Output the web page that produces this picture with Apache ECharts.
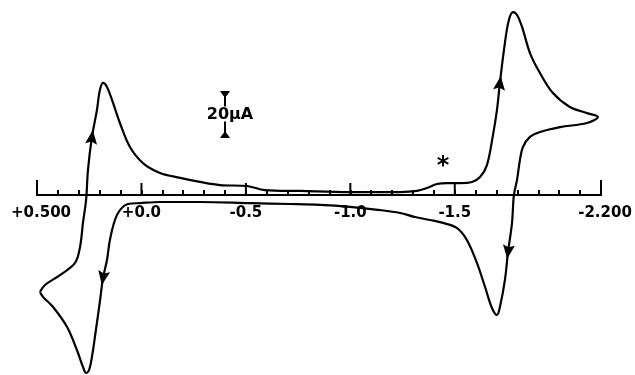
<!DOCTYPE html>
<html>
<head>
<meta charset="utf-8">
<script src="https://cdn.jsdelivr.net/npm/echarts@6/dist/echarts.min.js"></script>
<style>
html,body{margin:0;padding:0;background:#fff;}
#chart{width:635px;height:375px;}
</style>
</head>
<body>
<div id="chart"></div>
<script>
// Potential (V) and current (µA) read along the closed CV loop
const potential = [0.486,0.462,0.390,0.318,0.294,0.280,0.265,0.256,0.237,0.213,0.200,0.184,0.165,0.136,0.103,0.055,-0.007,-0.089,-0.185,-0.280,-0.376,-0.505,-0.591,-0.759,-0.998,-1.238,-1.319,-1.367,-1.415,-1.463,-1.525,-1.582,-1.621,-1.654,-1.683,-1.702,-1.716,-1.740,-1.759,-1.779,-1.798,-1.822,-1.860,-1.908,-1.970,-2.051,-2.133,-2.185,-2.133,-2.004,-1.908,-1.860,-1.826,-1.812,-1.798,-1.783,-1.774,-1.755,-1.740,-1.716,-1.702,-1.678,-1.645,-1.606,-1.558,-1.511,-1.444,-1.381,-1.309,-1.238,-1.142,-0.998,-0.855,-0.711,-0.520,-0.280,-0.089,0.007,0.064,0.103,0.127,0.151,0.165,0.184,0.198,0.218,0.237,0.251,0.265,0.280,0.309,0.356,0.423,0.471,0.486];
const current = [-43.1,-40.0,-35.6,-30.2,-23.1,-12.4,-2.2,11.1,25.8,37.8,46.2,49.8,48.0,40.9,32.0,21.3,14.2,9.8,7.6,5.8,4.4,4.0,2.2,1.8,1.3,1.3,1.8,3.1,4.9,5.3,5.3,5.8,8.0,13.3,26.7,37.8,49.8,67.6,77.8,81.3,80.0,74.7,63.1,54.2,45.3,39.1,36.4,34.7,32.0,30.2,28.0,25.8,21.3,15.6,6.7,0,-12.4,-25.3,-37.8,-49.8,-53.3,-50.2,-40.9,-30.2,-20.0,-14.7,-12.4,-11.1,-9.8,-8.0,-6.7,-5.3,-4.4,-4.0,-3.6,-3.1,-3.1,-3.6,-4.0,-6.7,-11.1,-20.0,-28.9,-36.9,-46.7,-60.0,-72.0,-77.8,-79.1,-76.4,-68.9,-58.7,-49.8,-45.3,-43.1];

// Scan-direction arrows: potential, current, direction (up / down)
const arrowPotential = [0.237, -1.716, -1.755, 0.184];
const arrowCurrent = [25.8, 49.8, -25.3, -36.9];
const arrowDir = ['up', 'up', 'down', 'down'];

// Axis tick labels
const labelValues = [0.5, 0.0, -0.5, -1.0, -1.5, -2.2];
const labelTexts = ['+0.500', '+0.0', '-0.5', '-1.0', '-1.5', '-2.200'];

// Scale bar (20 µA) and peak marker
const scaleBarPotential = -0.40;
const scaleBarFrom = 25.8;
const scaleBarTo = 45.8;
const scaleBarText = '20µA';
const starPotential = -1.444;
const starCurrent = 14.2;

const chart = echarts.init(document.getElementById('chart'));
const FONT = 'DejaVu Sans';

const loopData = potential.map((v, i) => [v, current[i]]);
const arrowData = arrowPotential.map((v, i) => ({
  value: [v, arrowCurrent[i]],
  symbolRotate: arrowDir[i] === 'up' ? -7 : (i === 2 ? 173 : 170)
}));

const option = {
  animation: false,
  backgroundColor: '#fff',
  grid: { left: 37, right: 34, top: 1.5, bottom: 0, containLabel: false, outerBoundsMode: 'none' },
  xAxis: {
    type: 'value',
    inverse: true,
    min: -2.2,
    max: 0.5,
    interval: 0.1,
    axisLine: { onZero: true, lineStyle: { color: '#000', width: 2 } },
    axisTick: { show: true, inside: true, length: 5, lineStyle: { color: '#000', width: 2 } },
    axisLabel: { show: false },
    splitLine: { show: false }
  },
  yAxis: {
    type: 'value',
    min: -80,
    max: 86,
    show: false,
    splitLine: { show: false }
  },
  series: [
    {
      type: 'line',
      data: loopData,
      symbol: 'none',
      smooth: 0.35,
      clip: false,
      lineStyle: { color: '#000', width: 2.2 }
    },
    {
      type: 'scatter',
      data: arrowData,
      symbol: 'path://M0,0 L6,12 L0,10 L-6,12 Z',
      symbolSize: [12, 14],
      itemStyle: { color: '#000', opacity: 1 },
      z: 5
    },
    {
      // taller ticks and labels at labelled potentials
      type: 'custom',
      data: labelValues.map((v, i) => [v, 0, i]),
      renderItem: function (params, api) {
        const p = api.coord([api.value(0), 0]);
        const v = api.value(0);
        const idx = api.value(2);
        const len = (Math.abs(v - 0.5) < 1e-6 || Math.abs(v + 2.2) < 1e-6) ? 15 : 12;
        return {
          type: 'group',
          children: [
            { type: 'line', shape: { x1: p[0], y1: p[1] + 1, x2: p[0], y2: p[1] - len }, style: { stroke: '#000', lineWidth: 2 } },
            { type: 'text', style: { text: labelTexts[idx], x: p[0] + (idx === 0 ? 4 : (idx === 5 ? 4 : 0)), y: p[1] + 18, align: 'center', verticalAlign: 'middle', font: 'bold 15px "' + FONT + '"', fill: '#000' } }
          ]
        };
      },
      clip: false,
      z: 4
    },
    {
      // 20 µA scale bar and '*' marker
      type: 'custom',
      data: [[scaleBarPotential, scaleBarFrom, scaleBarTo]],
      renderItem: function (params, api) {
        const top = api.coord([api.value(0), api.value(2)]);
        const bot = api.coord([api.value(0), api.value(1)]);
        const x = top[0];
        const mid = (top[1] + bot[1]) / 2;
        const star = api.coord([starPotential, starCurrent]);
        return {
          type: 'group',
          children: [
            { type: 'line', shape: { x1: x, y1: top[1], x2: x, y2: mid - 8 }, style: { stroke: '#000', lineWidth: 2 } },
            { type: 'line', shape: { x1: x, y1: mid + 7, x2: x, y2: bot[1] }, style: { stroke: '#000', lineWidth: 2 } },
            { type: 'polygon', shape: { points: [[x - 5, top[1] - 1], [x + 5, top[1] - 1], [x + 1.5, top[1] + 4], [x - 1.5, top[1] + 4]] }, style: { fill: '#000' } },
            { type: 'polygon', shape: { points: [[x - 5, bot[1] + 1], [x + 5, bot[1] + 1], [x + 1.5, bot[1] - 4], [x - 1.5, bot[1] - 4]] }, style: { fill: '#000' } },
            { type: 'text', style: { text: scaleBarText, x: x + 5, y: mid, align: 'center', verticalAlign: 'middle', font: 'bold 16px "' + FONT + '"', fill: '#000' } },
            { type: 'text', style: { text: '*', x: star[0], y: star[1] + 4, align: 'center', verticalAlign: 'middle', font: 'bold 24px "' + FONT + '"', fill: '#000' } }
          ]
        };
      },
      clip: false,
      z: 6
    }
  ]
};
chart.setOption(option);
</script>
</body>
</html>
